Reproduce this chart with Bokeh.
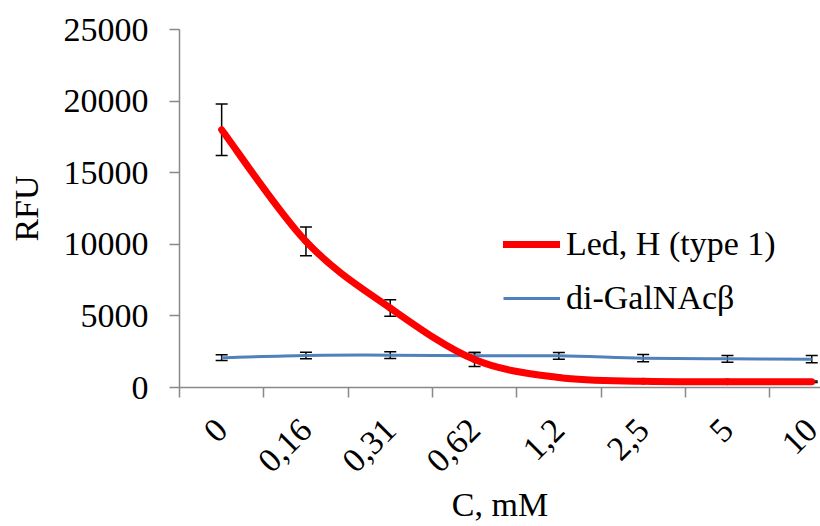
import math
from bokeh.plotting import figure
from bokeh.models import (ColumnDataSource, FixedTicker, Legend, LegendItem, Range1d,
                          Whisker, TeeHead)
from bokeh.embed import file_html
from bokeh.resources import INLINE

categories = ["0", "0,16", "0,31", "0,62", "1,2", "2,5", "5", "10"]
led_h = [18000, 10200, 5550, 1950, 700, 430, 400, 400]
led_h_err = [1800, 1000, 580, 490, 50, 50, 50, 50]
digalnac = [2080, 2240, 2260, 2210, 2210, 2050, 2000, 1980]
digalnac_err = [200, 230, 230, 230, 230, 250, 230, 250]
y_ticks = [0, 5000, 10000, 15000, 20000, 25000]

FONT = "Liberation Serif"
FS = "34px"
AXIS_GRAY = "#898989"

xs = [i + 0.5 for i in range(len(categories))]

p = figure(width=820, height=526, output_backend="svg", toolbar_location=None,
           x_range=Range1d(0, 641 / 84.3), y_range=Range1d(0, 25000),
           min_border_left=179, min_border_right=0, min_border_top=29, min_border_bottom=138)
p.outline_line_color = None
p.xgrid.visible = False
p.ygrid.visible = False


def smooth(xv, yv):
    n = len(xv)
    d = dict(x0=[], y0=[], x1=[], y1=[], cx0=[], cy0=[], cx1=[], cy1=[])
    for i in range(n - 1):
        a = i - 1 if i > 0 else i
        b = i + 2 if i + 2 < n else i + 1
        d["x0"].append(xv[i]); d["y0"].append(yv[i])
        d["x1"].append(xv[i + 1]); d["y1"].append(yv[i + 1])
        d["cx0"].append(xv[i] + (xv[i + 1] - xv[a]) / 6)
        d["cy0"].append(yv[i] + (yv[i + 1] - yv[a]) / 6)
        d["cx1"].append(xv[i + 1] - (xv[b] - xv[i]) / 6)
        d["cy1"].append(yv[i + 1] - (yv[b] - yv[i]) / 6)
    return ColumnDataSource(d)


blue = "#4F81BD"
red = "#FF0000"

for vals, errs in ((led_h, led_h_err), (digalnac, digalnac_err)):
    src = ColumnDataSource(dict(x=xs, upper=[v + e for v, e in zip(vals, errs)],
                                lower=[v - e for v, e in zip(vals, errs)]))
    w = Whisker(source=src, base="x", upper="upper", lower="lower", line_color="black",
                line_width=1.5, level="underlay",
                upper_head=TeeHead(size=12, line_color="black", line_width=1.5),
                lower_head=TeeHead(size=12, line_color="black", line_width=1.5))
    p.add_layout(w)

p.bezier(x0="x0", y0="y0", x1="x1", y1="y1", cx0="cx0", cy0="cy0", cx1="cx1", cy1="cy1",
         source=smooth(xs, digalnac), line_color=blue, line_width=3)
p.bezier(x0="x0", y0="y0", x1="x1", y1="y1", cx0="cx0", cy0="cy0", cx1="cx1", cy1="cy1",
         source=smooth(xs, led_h), line_color=red, line_width=7, line_cap="round")

# legend proxies
r_red = p.line(x=[float("nan")], y=[float("nan")], line_color=red, line_width=7, line_cap="round")
r_blue = p.line(x=[float("nan")], y=[float("nan")], line_color=blue, line_width=3)
legend = Legend(items=[LegendItem(label="Led, H (type 1)", renderers=[r_red]),
                       LegendItem(label="di-GalNAcβ", renderers=[r_blue])],
                location=(324, 69), padding=0, margin=0, spacing=14,
                glyph_width=57, glyph_height=40, label_height=40, label_standoff=6,
                label_text_font=FONT, label_text_font_size=FS, label_text_color="black",
                border_line_color=None, background_fill_alpha=0)
p.add_layout(legend)

# x axis
xa = p.xaxis[0]
xa.ticker = FixedTicker(ticks=xs, minor_ticks=list(range(len(categories) + 1)))
xa.major_label_overrides = {x: c for x, c in zip(xs, categories)}
xa.major_tick_out = 0
xa.major_tick_in = 0
xa.minor_tick_out = 10
xa.minor_tick_in = 0
xa.minor_tick_line_color = AXIS_GRAY
xa.minor_tick_line_width = 1.5
xa.axis_line_color = AXIS_GRAY
xa.axis_line_width = 1.5
xa.major_label_orientation = math.pi / 4
xa.major_label_text_font = FONT
xa.major_label_text_font_size = FS
xa.major_label_text_color = "black"
xa.axis_label = "C, mM"
xa.axis_label_text_font = FONT
xa.axis_label_text_font_size = FS
xa.axis_label_text_font_style = "normal"
xa.axis_label_text_color = "black"
xa.major_label_standoff = 27
xa.axis_label_standoff = 1

ya = p.yaxis[0]
ya.ticker = FixedTicker(ticks=y_ticks)
ya.minor_tick_out = 0
ya.minor_tick_in = 0
ya.major_tick_out = 10
ya.major_tick_in = 0
ya.major_tick_line_color = AXIS_GRAY
ya.major_tick_line_width = 1.5
ya.axis_line_color = AXIS_GRAY
ya.axis_line_width = 1.5
ya.major_label_text_font = FONT
ya.major_label_text_font_size = FS
ya.major_label_text_color = "black"
ya.major_label_standoff = 21
ya.axis_label = "RFU"
ya.axis_label_text_font = FONT
ya.axis_label_text_font_size = FS
ya.axis_label_text_font_style = "normal"
ya.axis_label_text_color = "black"
ya.axis_label_standoff = 16

open("out.html", "w").write(file_html(p, INLINE))
